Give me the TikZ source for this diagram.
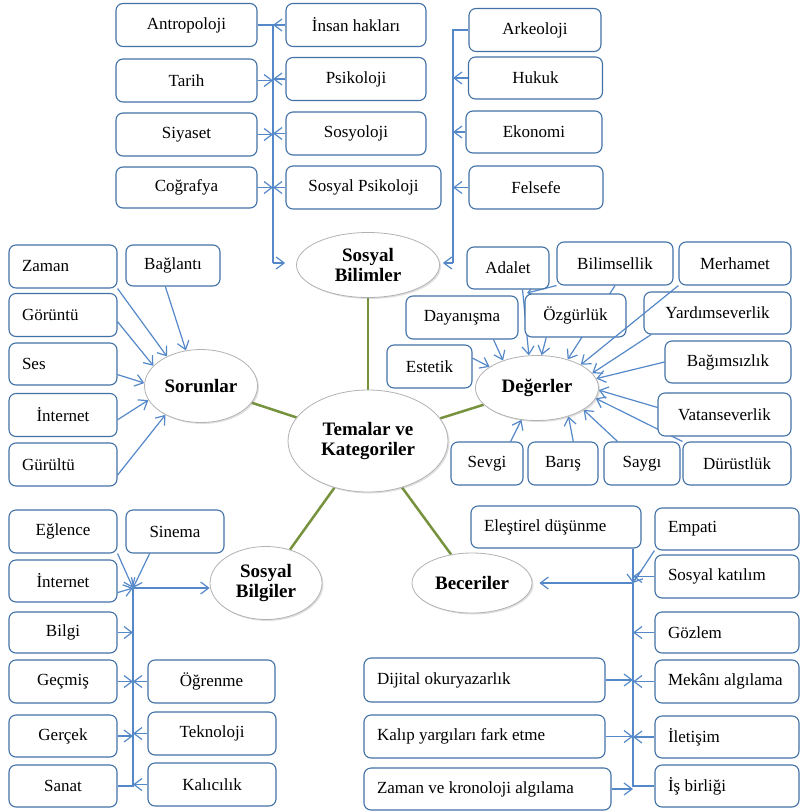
\documentclass[tikz,border=0pt]{standalone}
\usepackage{fontspec}
\setmainfont{Liberation Serif}
\usetikzlibrary{arrows.meta,backgrounds,shapes.geometric,shadows}
\definecolor{boxblue}{RGB}{65,113,166}
\definecolor{lineblue}{RGB}{84,136,200}
\definecolor{spokegreen}{RGB}{118,146,60}
\tikzset{
  box/.style={rectangle,rounded corners=7pt,draw=boxblue,line width=1.1pt,fill=white,minimum height=43pt,inner sep=2pt,font=\fontsize{17}{19}\selectfont},
  lbox/.style={box,inner xsep=13pt,text width=#1,align=flush left},
  theme/.style={ellipse,draw=gray!60,line width=0.8pt,fill=white,inner sep=0pt,align=center,font=\fontsize{19}{20}\selectfont\bfseries,drop shadow={opacity=0.25,shadow xshift=1.5pt,shadow yshift=-1.5pt}},
  arr/.style={draw=lineblue,line width=1.2pt,-{Straight Barb[length=8pt,width=12pt]}},
  bus/.style={draw=lineblue,line width=1.2pt},
  spoke/.style={draw=spokegreen,line width=2.5pt}
}
\begin{document}
\begin{tikzpicture}[x=1pt,y=-1pt]
        \useasboundingbox (0,0) rectangle (800,811);

        \node [theme,minimum width=160pt,minimum height=102pt] (tk) at (368,441) {Temalar ve\\Kategoriler};
        \node [theme,minimum width=143pt,minimum height=65pt] (sb) at (368,265) {Sosyal\\Bilimler};
        \node [theme,minimum width=113pt,minimum height=73pt] (sorunlar) at (201,386) {Sorunlar};
        \node [theme,minimum width=123pt,minimum height=65pt] (degerler) at (537,388) {Değerler};
        \node [theme,minimum width=112pt,minimum height=73pt] (sbilgiler) at (266,583) {Sosyal\\Bilgiler};
        \node [theme,minimum width=120pt,minimum height=60pt] (beceriler) at (472,583) {Beceriler};

        \node [box,minimum width=141pt] (antropoloji) at (186.5,25) {Antropoloji};
        \node [box,minimum width=141pt] (tarih) at (186.5,80.5) {Tarih};
        \node [box,minimum width=141pt] (siyaset) at (186.5,134.5) {Siyaset};
        \node [box,minimum width=141pt,minimum height=41pt] (cografya) at (186.5,187.5) {Coğrafya};
        \node [box,minimum width=140pt] (insan) at (356,25) {İnsan hakları};
        \node [box,minimum width=140pt] (psikoloji) at (356,79) {Psikoloji};
        \node [box,minimum width=140pt] (sosyoloji) at (356,133.5) {Sosyoloji};
        \node [box,minimum width=155pt] (sospsikoloji) at (363.5,187.5) {Sosyal Psikoloji};
        \node [box,minimum width=132pt] (arkeoloji) at (535,30) {Arkeoloji};
        \node [box,minimum width=134pt,minimum height=42pt] (hukuk) at (535.5,78) {Hukuk};
        \node [box,minimum width=136pt,minimum height=42pt] (ekonomi) at (534,132) {Ekonomi};
        \node [box,minimum width=134pt] (felsefe) at (536,187.5) {Felsefe};

        \node [lbox=82pt] (zaman) at (63,266.5) {Zaman};
        \node [box,minimum width=94pt,minimum height=41pt] (baglanti) at (173,265.5) {Bağlantı};
        \node [lbox=82pt] (goruntu) at (63,315) {Görüntü};
        \node [lbox=82pt,minimum height=42pt] (ses) at (63,364) {Ses};
        \node [box,minimum width=108pt] (internetA) at (63,415) {İnternet};
        \node [lbox=82pt] (gurultu) at (63,464.5) {Gürültü};

        \node [box,minimum width=82pt,minimum height=42pt] (adalet) at (508,268) {Adalet};
        \node [box,minimum width=116pt] (bilimsellik) at (615,263.5) {Bilimsellik};
        \node [box,minimum width=112pt] (merhamet) at (735,263.5) {Merhamet};
        \node [box,minimum width=112pt] (dayanisma) at (462,317.5) {Dayanışma};
        \node [box,minimum width=101pt] (ozgurluk) at (575.5,315.5) {Özgürlük};
        \node [box,minimum width=147pt,minimum height=42pt] (yardimseverlik) at (717.5,313) {Yardımseverlik};
        \node [box,minimum width=85pt] (estetik) at (429.5,366.5) {Estetik};
        \node [box,minimum width=126pt,minimum height=42pt] (bagimsizlik) at (728,362) {Bağımsızlık};
        \node [box,minimum width=133pt] (vatanseverlik) at (724.5,414.5) {Vatanseverlik};
        \node [box,minimum width=72pt] (sevgi) at (487,463.5) {Sevgi};
        \node [box,minimum width=70pt] (baris) at (563,463.5) {Barış};
        \node [box,minimum width=76pt] (saygi) at (642,463.5) {Saygı};
        \node [box,minimum width=108pt] (durustluk) at (737,463.5) {Dürüstlük};

        \node [box,minimum width=108pt] (eglence) at (63,531.5) {Eğlence};
        \node [box,minimum width=98pt] (sinema) at (175,531.5) {Sinema};
        \node [box,minimum width=108pt,minimum height=42pt] (internetB) at (63,581) {İnternet};
        \node [box,minimum width=108pt,minimum height=41pt] (bilgi) at (63,632.5) {Bilgi};
        \node [box,minimum width=108pt] (gecmis) at (63,681.5) {Geçmiş};
        \node [box,minimum width=108pt,minimum height=42pt] (gercek) at (63,736) {Gerçek};
        \node [box,minimum width=108pt,minimum height=42pt] (sanat) at (63,786) {Sanat};
        \node [box,minimum width=127pt] (ogrenme) at (211.5,681.5) {Öğrenme};
        \node [box,minimum width=128pt] (teknoloji) at (212,733.5) {Teknoloji};
        \node [box,minimum width=128pt] (kalicilik) at (212,784.5) {Kalıcılık};

        \node [lbox=144pt,minimum height=42pt] (elestirel) at (556,527) {Eleştirel düşünme};
        \node [lbox=118pt,minimum height=42pt] (empati) at (727,529) {Empati};
        \node [lbox=118pt] (sosyalkatilim) at (727,576.5) {Sosyal katılım};
        \node [lbox=118pt,minimum height=41pt] (gozlem) at (727,632.5) {Gözlem};
        \node [lbox=118pt] (mekan) at (727,681.5) {Mekânı algılama};
        \node [lbox=118pt,minimum height=42pt] (iletisim) at (727,737) {İletişim};
        \node [lbox=118pt,minimum height=42pt] (isbirligi) at (727,786) {İş birliği};
        \node [lbox=215pt,minimum height=44pt] (dijital) at (484.5,680) {Dijital okuryazarlık};
        \node [lbox=215pt] (kalip) at (484.5,736.5) {Kalıp yargıları fark etme};
        \node [lbox=221pt,minimum height=42pt] (zamankronoloji) at (487.5,789) {Zaman ve kronoloji algılama};

        \coordinate (sbl) at (273,263);
        \coordinate (sbr) at (453,263);
        \coordinate (adaletjoin) at (527,293);
        \coordinate (sgtop) at (133,588);
        \coordinate (bkbus) at (633,583);

        \begin{scope}[on background layer]
        \draw[spoke] (sb) -- (tk);
        \draw[spoke] (sorunlar) -- (tk);
        \draw[spoke] (degerler) -- (tk);
        \draw[spoke] (sbilgiler) -- (tk);
        \draw[spoke] (beceriler) -- (tk);

        \draw[bus] (antropoloji.east) -- (antropoloji.east -| sbl) -- (sbl);
        \draw[arr,shorten >=11pt] (sbl) -- (sbl -| sb.west);
        \draw[arr] (insan.west) -- (insan.west -| sbl);
        \draw[arr] (tarih.east) -- (tarih.east -| sbl);
        \draw[arr] (psikoloji.west) -- (psikoloji.west -| sbl);
        \draw[arr] (siyaset.east) -- (siyaset.east -| sbl);
        \draw[arr] (sosyoloji.west) -- (sosyoloji.west -| sbl);
        \draw[arr] (cografya.east) -- (cografya.east -| sbl);
        \draw[arr] (sospsikoloji.west) -- (sospsikoloji.west -| sbl);
        \draw[bus] (arkeoloji.west) -- (arkeoloji.west -| sbr) -- (sbr);
        \draw[arr,shorten >=3pt] (sbr) -- (sbr -| sb.east);
        \draw[arr] (hukuk.west) -- (hukuk.west -| sbr);
        \draw[arr] (ekonomi.west) -- (ekonomi.west -| sbr);
        \draw[arr] (felsefe.west) -- (felsefe.west -| sbr);

        \draw[arr] (zaman.south east) -- (sorunlar.139);
        \draw[arr] (goruntu.-7) -- (sorunlar.157);
        \draw[arr] (ses.-11) -- (sorunlar.177);
        \draw[arr] (internetA.-5) -- (sorunlar.-165);
        \draw[arr] (gurultu.-11) -- (sorunlar.-141);
        \draw[arr] (baglanti.-110) -- (sorunlar.113);

        \draw[arr] (bilimsellik.south west) -- (adaletjoin);
        \draw[arr] (adalet.-56) -- (degerler.104);
        \draw[arr] (bilimsellik.south) -- (degerler.43);
        \draw[arr] (ozgurluk.-143) -- (degerler.82);
        \draw[arr] (dayanisma.-35) -- (degerler.141);
        \draw[arr] (estetik.11) -- (degerler.156);
        \draw[arr] (yardimseverlik.-162) -- (degerler.15);
        \draw[arr] (bagimsizlik.west) -- (degerler.9);
        \draw[arr] (vatanseverlik.174) -- (degerler.-2);
        \draw[arr] (durustluk.north west) -- (degerler.-10);
        \draw[arr] (saygi.138) -- (degerler.-25);
        \draw[arr] (baris.65) -- (degerler.-42);
        \draw[arr] (sevgi.43) -- (degerler.-116);

        \draw[arr] (eglence.south east) -- (sgtop);
        \draw[arr] (sinema.-139) -- (sgtop);
        \draw[arr] (internetB.-12) -- (sgtop);
        \draw[bus] (sgtop) -- (sanat.east -| sgtop) -- (sanat.east);
        \draw[arr] (sgtop) -- (sgtop -| sbilgiler.west);
        \draw[arr] (bilgi.east) -- (bilgi.east -| sgtop);
        \draw[arr] (gecmis.east) -- (gecmis.east -| sgtop);
        \draw[arr] (ogrenme.west) -- (ogrenme.west -| sgtop);
        \draw[arr] (gercek.east) -- (gercek.east -| sgtop);
        \draw[arr] (teknoloji.west) -- (teknoloji.west -| sgtop);
        \draw[arr] (kalicilik.west) -- (kalicilik.west -| sgtop);

        \draw[arr] (elestirel.south -| bkbus) -- (bkbus);
        \draw[arr] (empati.south west) -- (bkbus);
        \draw[arr] (sosyalkatilim.west) -- (sosyalkatilim.west -| bkbus);
        \draw[arr,shorten >=7pt] (bkbus) -- (beceriler.east);
        \draw[bus] (bkbus) -- (isbirligi.west -| bkbus) -- (isbirligi.west);
        \draw[arr] (gozlem.west) -- (gozlem.west -| bkbus);
        \draw[arr] (mekan.west) -- (mekan.west -| bkbus);
        \draw[arr] (dijital.east) -- (dijital.east -| bkbus);
        \draw[arr] (iletisim.west) -- (iletisim.west -| bkbus);
        \draw[arr] (kalip.east) -- (kalip.east -| bkbus);
        \draw[arr] (zamankronoloji.east) -- (zamankronoloji.east -| bkbus);
        \end{scope}

        \draw[arr] (merhamet.south west) -- (degerler.28);
\end{tikzpicture}
\end{document}
